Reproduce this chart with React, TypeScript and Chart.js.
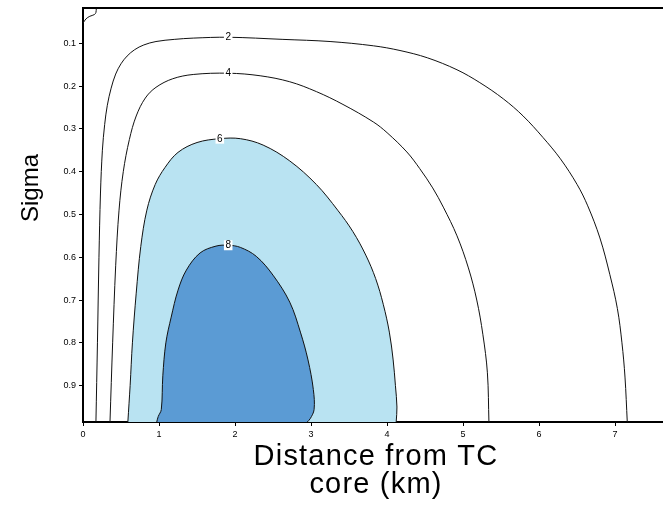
import React, { useEffect, useRef } from 'react';
import { Chart, registerables } from 'chart.js';

Chart.register(...registerables);

// ---- axes ----
const xTicks = [0, 1, 2, 3, 4, 5, 6, 7];
const sigmaTicks = [0.1, 0.2, 0.3, 0.4, 0.5, 0.6, 0.7, 0.8, 0.9];
const xMin = 0;
const xMax = 7.63;
const sigmaMin = 0.0186;
const sigmaMax = 0.985;

// ---- contour 2 ----
const c2X = [0.17, 0.19, 0.21, 0.23, 0.255, 0.285, 0.32, 0.37, 0.43, 0.5, 0.58, 0.68, 0.8, 0.96, 1.2, 1.45, 1.91, 2.63, 3.25, 3.82, 4.17, 4.53, 4.92, 5.22, 5.53, 5.79, 6.05, 6.28, 6.5, 6.64, 6.8, 6.93, 7.03, 7.09, 7.13, 7.16];
const c2S = [0.985, 0.8, 0.6, 0.45, 0.35, 0.29, 0.245, 0.205, 0.172, 0.148, 0.13, 0.115, 0.104, 0.096, 0.091, 0.088, 0.086, 0.091, 0.096, 0.106, 0.117, 0.134, 0.162, 0.192, 0.23, 0.27, 0.32, 0.37, 0.43, 0.48, 0.555, 0.64, 0.72, 0.8, 0.88, 0.985];

// ---- small contour near the top-left corner ----
const c2bX = [0, 0.04, 0.09, 0.15, 0.17, 0.175];
const c2bS = [0.053, 0.043, 0.037, 0.033, 0.028, 0.0186];

// ---- contour 4 ----
const c4X = [0.355, 0.39, 0.43, 0.474, 0.53, 0.61, 0.7, 0.82, 0.96, 1.18, 1.45, 1.91, 2.33, 2.72, 3.07, 3.42, 3.82, 4.0, 4.26, 4.43, 4.6, 4.74, 4.92, 5.07, 5.18, 5.26, 5.32, 5.34];
const c4S = [0.985, 0.8, 0.62, 0.49, 0.4, 0.325, 0.27, 0.228, 0.203, 0.183, 0.173, 0.17, 0.176, 0.19, 0.213, 0.243, 0.284, 0.309, 0.354, 0.393, 0.438, 0.483, 0.55, 0.625, 0.7, 0.78, 0.87, 0.985];

// ---- contour 6 (filled) ----
const c6X = [0.59, 0.62, 0.65, 0.7, 0.76, 0.84, 0.95, 1.08, 1.25, 1.5, 1.8, 2.07, 2.37, 2.72, 3.07, 3.35, 3.55, 3.72, 3.85, 3.95, 4.03, 4.08, 4.11, 4.13, 4.12];
const c6S = [0.985, 0.9, 0.8, 0.684, 0.575, 0.49, 0.43, 0.39, 0.355, 0.332, 0.323, 0.323, 0.338, 0.375, 0.43, 0.49, 0.54, 0.595, 0.65, 0.71, 0.775, 0.84, 0.9, 0.95, 0.985];

// ---- contour 8 (filled) ----
const c8X = [0.97, 0.99, 1.03, 1.05, 1.09, 1.16, 1.25, 1.36, 1.54, 1.75, 1.91, 2.07, 2.28, 2.5, 2.72, 2.86, 2.96, 3.03, 3.04, 2.99, 2.95];
const c8S = [0.985, 0.972, 0.956, 0.877, 0.8, 0.74, 0.677, 0.63, 0.59, 0.574, 0.572, 0.577, 0.598, 0.642, 0.705, 0.775, 0.84, 0.909, 0.956, 0.977, 0.985];

// ---- contour labels ----
const labelText = ['2', '4', '6', '8'];
const labelX = [1.91, 1.91, 1.8, 1.91];
const labelS = [0.086, 0.17, 0.323, 0.572];

const xTitle = ['Distance from TC', 'core (km)'];
const yTitle = 'Sigma';

const FONT = "'Liberation Sans', Arial, Helvetica, sans-serif";

const pts = (xs: number[], ss: number[]) => xs.map((v, i) => ({ x: v, y: ss[i] }));

const overlayPlugin = {
  id: 'overlay',
  afterDatasetsDraw(chart: any) {
    const { ctx } = chart;
    const xs = chart.scales.x;
    const ys = chart.scales.y;
    ctx.save();
    ctx.font = `10px ${FONT}`;
    ctx.textAlign = 'center';
    ctx.textBaseline = 'middle';
    labelText.forEach((t, i) => {
      const px = xs.getPixelForValue(labelX[i]);
      const py = ys.getPixelForValue(labelS[i]);
      const w = ctx.measureText(t).width + 3;
      ctx.fillStyle = '#ffffff';
      ctx.fillRect(px - w / 2, py - 5, w, 10);
      ctx.fillStyle = '#000000';
      ctx.fillText(t, px, py + 0.5);
    });
    ctx.restore();
  },
  afterDraw(chart: any) {
    const { ctx } = chart;
    ctx.save();
    ctx.fillStyle = '#000000';
    ctx.textAlign = 'center';
    ctx.textBaseline = 'alphabetic';
    ctx.font = `29px ${FONT}`;
    try {
      (ctx as any).letterSpacing = '1.2px';
    } catch (e) {}
    ctx.fillText(xTitle[0], 376, 465);
    ctx.fillText(xTitle[1], 376, 493);
    try {
      (ctx as any).letterSpacing = '0px';
    } catch (e) {}
    ctx.translate(38, 188);
    ctx.rotate(-Math.PI / 2);
    ctx.font = `24px ${FONT}`;
    ctx.fillText(yTitle, 0, 0);
    ctx.restore();
  },
};

export default function App() {
  const ref = useRef<HTMLCanvasElement | null>(null);

  useEffect(() => {
    if (!ref.current) return;
    const lineColor = '#111111';
    const base = {
      showLine: true,
      borderColor: lineColor,
      borderWidth: 1,
      pointRadius: 0,
      tension: 0.35,
    };
    const chart = new Chart(ref.current, {
      type: 'scatter',
      data: {
        datasets: [
          { ...base, label: '2', data: pts(c2X, c2S), fill: false, order: 1 },
          { ...base, label: '2b', data: pts(c2bX, c2bS), fill: false, order: 1 },
          { ...base, label: '4', data: pts(c4X, c4S), fill: false, order: 1 },
          { ...base, label: '6', data: pts(c6X, c6S), backgroundColor: '#b9e3f2', fill: 'shape', order: 3 },
          { ...base, label: '8', data: pts(c8X, c8S), backgroundColor: '#5b9bd4', fill: 'shape', order: 2 },
        ],
      },
      options: {
        animation: false,
        responsive: false,
        maintainAspectRatio: false,
        layout: { padding: 0 },
        plugins: {
          legend: { display: false },
          tooltip: { enabled: false },
        },
        scales: {
          x: {
            type: 'linear',
            position: 'bottom',
            min: xMin,
            max: xMax,
            afterBuildTicks: (s: any) => {
              s.ticks = xTicks.map((v) => ({ value: v }));
            },
            afterFit: (s: any) => {
              s.height = 88;
            },
            grid: { drawOnChartArea: false, drawTicks: true, tickLength: 4, color: '#000' },
            border: { display: true, color: '#000', width: 2 },
            ticks: {
              font: { size: 9, family: FONT },
              color: '#000',
              padding: 3,
              maxRotation: 0,
              autoSkip: false,
              callback: (v: any) => String(v),
            },
          },
          x2: {
            type: 'linear',
            position: 'top',
            min: xMin,
            max: xMax,
            ticks: { display: false },
            grid: { display: false, drawTicks: false },
            border: { display: true, color: '#000', width: 2 },
            afterFit: (s: any) => {
              s.height = 7;
            },
          },
          y: {
            type: 'linear',
            reverse: true,
            min: sigmaMin,
            max: sigmaMax,
            afterBuildTicks: (s: any) => {
              s.ticks = sigmaTicks.map((v) => ({ value: v }));
            },
            afterFit: (s: any) => {
              s.width = 83;
            },
            grid: { drawOnChartArea: false, drawTicks: true, tickLength: 4, color: '#000' },
            border: { display: true, color: '#000', width: 2 },
            ticks: {
              font: { size: 9, family: FONT },
              color: '#000',
              padding: 3,
              autoSkip: false,
              callback: (v: any) => Number(v).toFixed(1),
            },
          },
        },
      } as any,
      plugins: [overlayPlugin],
    });
    return () => chart.destroy();
  }, []);

  return (
    <div style={{ position: 'absolute', left: 0, top: 0, width: 663, height: 510, background: '#fff' }}>
      <canvas ref={ref} width={663} height={510} style={{ width: 663, height: 510, display: 'block' }} />
    </div>
  );
}
